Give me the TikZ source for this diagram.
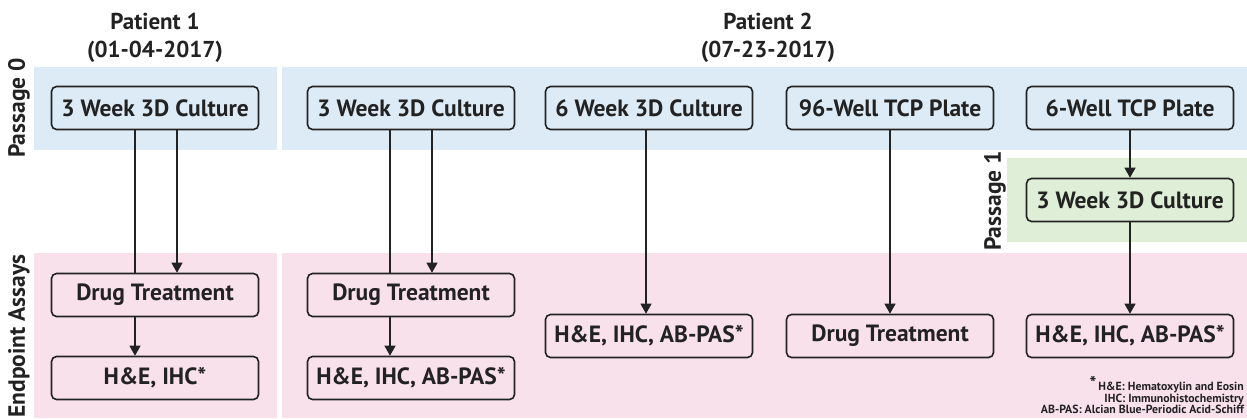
\documentclass[tikz,border=0pt]{standalone}
\usepackage{fontspec}
\setmainfont{PT Sans}
\usetikzlibrary{arrows.meta,positioning}
\definecolor{StudyDark}{HTML}{222222}
\definecolor{StudyBlue}{HTML}{DDEBF6}
\definecolor{StudyPink}{HTML}{F9E1EC}
\definecolor{StudyGreen}{HTML}{DFEED6}

\begin{document}
\begin{tikzpicture}[
    x=1pt, y=-1pt,
    box/.style={rectangle, draw=StudyDark, rounded corners=5pt, line width=1.6pt, minimum width=207pt, minimum height=43pt, inner sep=0pt, text=StudyDark, font=\bfseries\fontsize{23.5}{26}\selectfont},
    arrow/.style={->, line width=1.2pt, StudyDark, >={Triangle[width=11pt,length=10pt]}},
    plain/.style={line width=1.2pt, StudyDark},
    side/.style={rotate=90, text=StudyDark, font=\bfseries\fontsize{23.5}{26}\selectfont},
    head/.style={align=center, text=StudyDark, font=\bfseries\fontsize{23}{28}\selectfont}
]
\useasboundingbox (0,0) rectangle (1247,418);

% Bands
\fill[StudyBlue] (34,67) rectangle (277,150);
\fill[StudyBlue] (282,67) rectangle (1247,150);
\fill[StudyGreen] (1007,158) rectangle (1247,242);
\fill[StudyPink] (34,253) rectangle (277,418);
\fill[StudyPink] (282,253) rectangle (1247,418);

% Labels
\node[head] (pat1) at (155,38) {Patient 1\\(01-04-2017)};
\node[head] (pat2) at (768,38) {Patient 2\\(07-23-2017)};
\node[side] (pass0) at (19,108) {Passage 0};
\node[side] (pass1) at (995,201) {Passage 1};
\node[side] (endp) at (19,336) {Endpoint Assays};

% Nodes
\node[box] (cult1) at (155,108) {3 Week 3D Culture};
\node[box] (drug1) at (155,295) {Drug Treatment};
\node[box] (he1) at (155,378) {H\&E, IHC*};

\node[box] (cult2) at (411,108) {3 Week 3D Culture};
\node[box] (drug2) at (411,295) {Drug Treatment};
\node[box] (he2) at (411,378) {H\&E, IHC, AB-PAS*};

\node[box] (cult6) at (649,108) {6 Week 3D Culture};
\node[box] (he6) at (649,336) {H\&E, IHC, AB-PAS*};

\node[box] (plate96) at (890,108) {96-Well TCP Plate};
\node[box] (drug96) at (890,336) {Drug Treatment};

\node[box] (plate6) at (1130,108) {6-Well TCP Plate};
\node[box] (cultp1) at (1130,200) {3 Week 3D Culture};
\node[box] (he7) at (1130,336) {H\&E, IHC, AB-PAS*};

\node[anchor=east, align=right, inner sep=0pt, text=StudyDark, font=\bfseries\fontsize{11.8}{11.8}\selectfont] (notes) at (1244,395)
    {\raisebox{1pt}{\fontsize{18}{12}\selectfont *}\,H\&E: Hematoxylin and Eosin\\IHC: Immunohistochemistry\\AB-PAS: Alcian Blue-Periodic Acid-Schiff};

% Arrows
\draw[plain] ([xshift=-20pt]cult1.south) -- ([xshift=-20pt]drug1.north);
\draw[arrow] ([xshift=22pt]cult1.south) -- ([xshift=22pt]drug1.north);
\draw[arrow] ([xshift=-20pt]drug1.south) -- ([xshift=-20pt]he1.north);

\draw[plain] ([xshift=-21pt]cult2.south) -- ([xshift=-21pt]drug2.north);
\draw[arrow] ([xshift=21pt]cult2.south) -- ([xshift=21pt]drug2.north);
\draw[arrow] ([xshift=-21pt]drug2.south) -- ([xshift=-21pt]he2.north);

\draw[arrow] ([xshift=-3pt]cult6.south) -- ([xshift=-3pt]he6.north);
\draw[arrow] (plate96) -- (drug96);
\draw[arrow] (plate6) -- (cultp1);
\draw[arrow] (cultp1) -- (he7);

\end{tikzpicture}
\end{document}
